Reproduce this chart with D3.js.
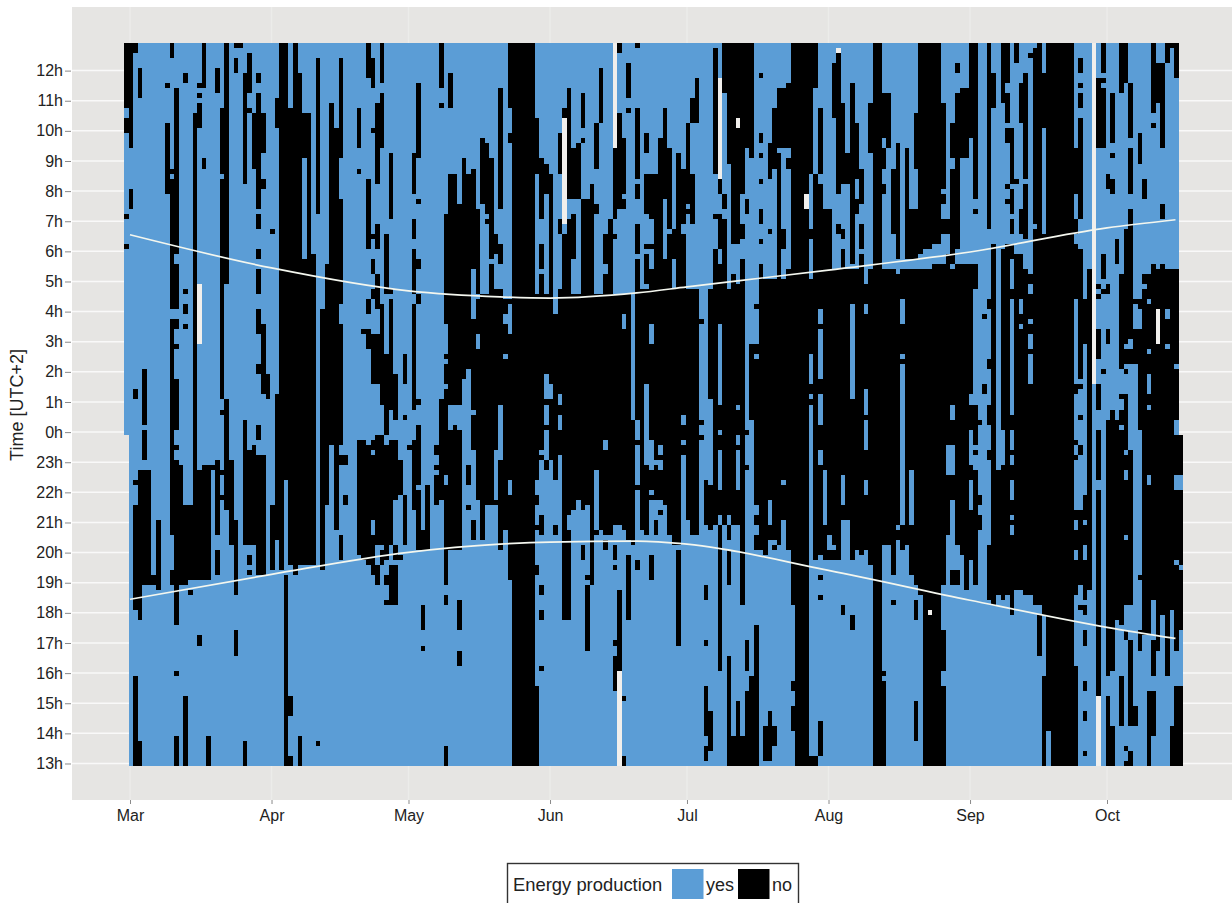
<!DOCTYPE html>
<html><head><meta charset="utf-8">
<style>html,body{margin:0;padding:0;background:#fff;overflow:hidden}svg{display:block}text{font-family:"Liberation Sans",Arial,sans-serif}</style>
<script src="https://cdn.jsdelivr.net/npm/d3@7"></script></head><body><svg id="c" width="1232" height="903"></svg>
<script>
// "No production" runs per grid column: flat start,end pairs, in 10-minute slots counted down from the top of the raster.
const noMar=[[0,13,15,18,34,35,40,41],[0,21,29,33],[0,2,69,71,87,88,92,113,126,144],[5,11,85,115,139,144],[65,76,77,83,85,108],[85,108],[106,108],[95,109],[],[8,9,16,30],[0,3,25,26,27,53,55,98,105,108],[9,42,44,53,55,57,60,61,67,77,80,81,83,116,125,126,138,144],[84,108],[6,8,49,50,52,54,56,57,92,108,130,144],[92,107,109,110],[14,107],[8,9,10,11,12,17,85,107,118,120],[0,9,23,25,84,107],[84,107,138,144],[84,85],[5,10,83,98,101,106],[13,26,27,71,73,74,85,86,90,91],[0,48,71,93],[83,100],[0,1,3,6,95,110,117,122],[0,1],[6,28,75,100,139,144],[2,10,13,14,81,100,102,104,105,106],[14,25,80,100],[6,8,10,33,34,37,41,43,45,50,53,58,64,66,76,79,82,106],[14,22,27,29,56,70,82,106],[66,71]];
const noApr=[[37,38,92,105],[11,17,70,99],[0,105],[0,87,106,144],[13,104,130,134,142,144],[0,106],[6,104,138,144],[14,23,43,104],[14,104],[42,104],[3,34,139,140],[53,105],[44,92],[12,80],[17,97],[3,23,31,52,56,80,82,84,98,103],[82,84,90,92],[],[],[13,21,25,26,79,102],[57,58,79,103],[0,7,27,41,51,54,57,61,80,104],[3,9,17,18,38,39,43,46,49,51,58,68,79,81,82,95,98,106],[12,28,36,41,46,53,58,68,78,100,104,108],[0,8,10,21,52,72,78,100,101,104],[38,50,62,78,80,103,106,108,111,112],[22,35,49,50,51,73,79,100,104,112],[66,75,79,91,100,103,104,112],[83,90,102,103],[62,68,74,75,90,100]];
const noMay=[[80,81],[22,30,35,39,41,50,52,73,79,93],[8,23,31,32,43,45,50,52,71,72,76,88,89,101],[97,101,112,117,120,121],[88,101],[],[80,82,84,85,86,92],[0,9,12,13,71,91],[34,56,62,63,64,68,69,86,88,108,110,112,140,144],[6,13,26,72,77,101],[26,72,76,101],[32,72,77,101,111,117,121,124],[23,67],[26,65,84,88,92,93],[25,45,55,73,74,81,95,99],[33,50,51,58,61,91],[19,32,50,99],[20,34,35,36,50,92],[23,43,44,92],[38,42,49,81,91,92],[9,33,40,44,49,72,83,101],[51,54,56,62,63,97],[0,13,18,20,51,52,58,87,90,107],[0,144],[0,144],[0,144],[0,144],[0,144],[15,26,50,87,90,92,96,97,104,106,128,144],[23,35,40,45,46,81,82,83,94,98,108,110,113,115,124,125],[24,30,50,66,71,72,76,77,83,85]];
const noJun=[[26,68,71,83],[54,87,96,98],[18,26,35,38,49,70,72,74,77,82],[13,15,38,115],[9,31,35,94,97,115],[21,31,34,43,50,93],[20,31,50,91],[10,17,19,20,31,93,100,103],[31,92,106,107,108,121],[28,108],[16,25,32,34,50,85,97,98],[5,16,50,97],[38,44,46,79,81,98,99,101],[35,98],[21,35,38,39,50,96,100,103,104,105,119,120,122,129],[0,2,14,33,50,96,109,125],[19,30,31,33,50,54,57,97,130,131,142,144],[4,11,13,14,50,99,102,115],[75,100],[0,1,13,27,28,31,36,42,43,75,79,80,88,89,103,105],[49,97],[18,22,26,34,40,41,42,48,49,68,84,98],[26,35,40,41,45,56,60,79,85,89,90,91,102,107],[26,83,84,91,95,98],[19,80,82,83,85,91,93,94],[13,31,43,92],[21,37,38,98],[37,43,49,100],[22,100,101,120],[25,36,38,74,76,79,80,82]];
const noJul=[[16,32,33,34,49,95],[11,16,26,36,49,98],[7,16,49,98],[55,56,75,76,78,79],[87,96,108,111,119,120,128,138,140,143],[49,71,88,97,133,141],[1,26,34,35,41,96],[27,30,34,41,44,56,72,77,78,81,89,94,96,125,144],[0,10,30,33,35,96],[0,24,49,94,96,99,101,108,122,144],[0,40,46,96,138,144],[0,15,17,40,48,72,73,78,80,81,89,96,131,144],[0,30,36,39,43,112,138,144],[0,21,31,34,77,78,84,85,119,125,129,144],[0,23,60,75,126,144],[52,53,60,62,63,92,94,96,98,101,116,144],[6,7,18,20,22,23,27,28,33,36,39,40,44,101],[47,102,136,143],[20,27,37,38,47,91,96,99,133,143],[13,25,47,99,100,101,136,140],[9,21,22,100],[9,21,37,41,47,87,88,95],[8,21,23,25,45,101],[0,112,127,129,132,137],[0,144],[0,144],[0,30,33,144],[0,26,37,39,47,62,68,70,71,72,142,144],[0,9,26,103,142,144],[13,26,28,53,56,57,67,70,76,81,84,102,106,107,110,111,135,142],[33,85,96,103]];
const noAug=[[33,98,101,103],[4,15,45,100,101,103],[2,30,36,38,45,103],[12,28,37,39,41,86,92,95,112,114],[22,28,45,95],[8,44,45,52,71,103,114,117],[16,27,31,34,45,101],[25,32,36,41,42,102],[48,52,54,69,74,75,81,87,90,101],[12,22,45,104],[0,144],[0,144],[10,19,21,25,28,30,45,100,125,126,127,144],[10,21,45,100],[25,38,45,106,111,112],[20,43,46,96,97,99],[45,51,56,62,63,64,96,101],[21,43,45,100],[33,43,45,85,96,106],[14,25,33,43,45,108,111,115,131,139],[0,42,45,110],[0,41,45,144],[0,41,45,113,114,144],[0,40,44,144],[0,40,44,144],[12,29,30,32,35,38,44,108,117,125,128,144],[35,38,42,80,86,98],[16,23,25,44,45,72,75,80,86,91,105,108],[4,6,10,41,44,100,105,108],[9,23,44,102],[9,23,44,109]];
const noSep=[[0,19,44,70,72,77,84,87,93,103],[0,31,33,34,44,49,72,80,81,82,85,108],[75,76,90,92,94,97],[54,55,68,70],[0,37,51,53,63,65,72,76,81,83,100,111],[6,13,40,112],[85,110],[0,12,41,77,84,111],[0,8,10,16,17,20,28,29,31,32,40,110],[17,28,29,34,35,38,40,43,49,51,74,77,81,82,84,87,91,94,95,96,98,114],[0,4,27,28,42,109],[8,16,33,38,42,51,54,56,57,109],[6,27,28,39,45,110],[2,3,46,48,50,55,56,58,61,62,68,110],[1,36,37,112],[0,112,114,122],[6,17,38,114,126,144],[0,137],[0,144],[0,144],[0,144],[0,144],[0,144],[21,30,35,38,40,51,68,70,79,80,82,83,93,95,97,101,103,110,124,144],[3,6,8,9,10,13,15,35,41,67,68,69,74,75,80,82,93,108,112,113],[51,60,90,95,96,100,103,111,112,114,117,120,127,129,133,135,141,142],[45,109],[],[7,21,48,49,50,51,57,63,68,73,77,87,89,130],[0,6,7,8,9,21,42,47,49,50,65,66]];
const noOct=[[26,29,48,50,57,60,75,126,130,144],[10,20,22,23,27,30,73,125,136,144],[39,44,75,115],[0,10,46,65,70,71,73,76,77,116,126,136],[0,8,37,60,61,64,65,66,70,81,82,85,87,98,99,112,117,119,140,141,143,144],[8,19,21,30,33,59,61,64,81,112,119,136,141,144],[51,52,57,64,132,136],[18,24,51,53,57,77,106,107,117,121],[27,31,46,48,49,118],[46,51,52,61,62,66,70,72,73,86,88,118,129,144],[0,14,16,17,44,111,119,126,129,138],[4,12,45,53,60,121],[4,21,32,35,44,114],[0,4,45,53,55,60,61,126],[0,1,45,113,136,144],[0,7,45,64,65,75,78,86,89,103,104,121,128,144],[78,86,89,104,105,117,128,144]];
// Missing measurements: grid column, first slot, last slot
const missingColumn=[16,96,107,108,130,134,149,156,176,212,213,226];
const missingStart=[48,15,0,125,7,15,30,1,113,0,130,53];
const missingEnd=[60,36,21,144,27,17,33,2,114,68,144,60];
const hourLabels=["13h","14h","15h","16h","17h","18h","19h","20h","21h","22h","23h","0h","1h","2h","3h","4h","5h","6h","7h","8h","9h","10h","11h","12h"];
const monthLabels=["Mar","Apr","May","Jun","Jul","Aug","Sep","Oct"];
const monthStarts=["2013-03-01","2013-04-01","2013-05-01","2013-06-01","2013-07-01","2013-08-01","2013-09-01","2013-10-01"];
const lineDates=["2013-03-01","2013-04-01","2013-05-01","2013-05-21","2013-06-01","2013-06-20","2013-07-01","2013-08-01","2013-09-01","2013-10-01","2013-10-16"];
const sunriseHours=[6.55,5.45,4.69,4.49,4.45,4.62,4.82,5.38,5.98,6.78,7.05];
const sunsetHours=[18.45,19.28,20.01,20.28,20.35,20.38,20.28,19.41,18.42,17.52,17.15];

const blue="#5b9dd6",gap="#f1efec";
const noRuns=[].concat(noMar,noApr,noMay,noJun,noJul,noAug,noSep,noOct);
const parse=d3.utcParse("%Y-%m-%d");
const svg=d3.select("#c");
const x=d3.scaleUtc().domain([parse(monthStarts[0]),parse(monthStarts[7])]).range([130,1107]);
const y=d3.scaleLinear().domain([0,144]).range([43,766]);          // slots from top
const colDate=k=>d3.utcDay.offset(parse(monthStarts[0]),k-1);
const colX=k=>x(colDate(k))-1.4;
const colW=k=>x(colDate(k+1))-x(colDate(k));
const midnightSlot=78;
// panel
svg.append("rect").attr("x",72).attr("y",7).attr("width",1160).attr("height",793).attr("fill","#e6e5e3");
const hourY=i=>y(144-i*6-0.5);
svg.append("g").selectAll("line").data(hourLabels).join("line").attr("x1",72).attr("x2",1232)
  .attr("y1",(d,i)=>hourY(i)).attr("y2",(d,i)=>hourY(i)).attr("stroke","#f9f9f9").attr("stroke-width",1.5);
svg.append("g").selectAll("line").data(monthStarts).join("line").attr("y1",7).attr("y2",800)
  .attr("x1",d=>x(parse(d))).attr("x2",d=>x(parse(d))).attr("stroke","#ececea").attr("stroke-width",1.4);
// yes background
const columns=noRuns.map((r,k)=>({k,r}));
const g=svg.append("g").attr("shape-rendering","crispEdges");
g.selectAll("rect.top").data(columns.slice(0,231)).join("rect").attr("class","top")
  .attr("x",d=>colX(d.k)).attr("width",d=>colW(d.k)).attr("y",y(0)).attr("height",y(midnightSlot)-y(0)).attr("fill",blue);
g.selectAll("rect.bot").data(columns.slice(1)).join("rect").attr("class","bot")
  .attr("x",d=>colX(d.k)).attr("width",d=>colW(d.k)).attr("y",y(midnightSlot)).attr("height",y(144)-y(midnightSlot)).attr("fill",blue);
// no runs
const runs=[];
noRuns.forEach((r,k)=>{for(let i=0;i<r.length;i+=2)runs.push({k,a:r[i],b:r[i+1]});});
g.selectAll("rect.no").data(runs).join("rect").attr("class","no")
  .attr("x",d=>colX(d.k)).attr("width",d=>colW(d.k)).attr("y",d=>y(d.a)).attr("height",d=>y(d.b)-y(d.a)).attr("fill","#000");
g.selectAll("rect.gap").data(missingColumn).join("rect").attr("class","gap")
  .attr("x",d=>colX(d)).attr("width",d=>colW(d)).attr("y",(d,i)=>y(missingStart[i])).attr("height",(d,i)=>y(missingEnd[i])-y(missingStart[i])).attr("fill",gap);
// sun lines
const yHour=h=>h<13?y(144-(h+11)*6-0.5):y(144-(h-13)*6-0.5);
[sunriseHours,sunsetHours].forEach(s=>{
  svg.append("path").datum(lineDates.map((d,i)=>[parse(d),s[i]]))
    .attr("d",d3.line().x(d=>x(d[0])).y(d=>yHour(d[1])).curve(d3.curveMonotoneX))
    .attr("fill","none").attr("stroke","#f4f7ef").attr("stroke-width",1.7);
});
// axes
const ax=d3.axisBottom(x).tickValues(monthStarts.map(parse)).tickFormat((d,i)=>monthLabels[i]).tickSize(4).tickPadding(6);
const axX=svg.append("g").attr("transform","translate(0,800)").call(ax);
const yb=d3.scalePoint().domain(hourLabels).range([hourY(0),hourY(23)]);
const axY=svg.append("g").attr("transform","translate(71,0)").call(d3.axisLeft(yb).tickSize(6).tickPadding(2));
[axX,axY].forEach(a=>{a.select(".domain").remove();a.selectAll("line").attr("stroke","#8a8a8a");
  a.selectAll("text").attr("font-size",16).attr("fill","#222").attr("font-family",'"Liberation Sans",Arial,sans-serif');});
svg.append("text").attr("transform","translate(23,405) rotate(-90)").attr("text-anchor","middle").attr("font-size",18).attr("fill","#222").text("Time [UTC+2]");
// legend
const lg=svg.append("g");
lg.append("rect").attr("x",507.5).attr("y",863.5).attr("width",291).attr("height",42).attr("fill","#fff").attr("stroke","#333").attr("stroke-width",1.4);
lg.append("text").attr("x",513).attr("y",891).attr("font-size",18.4).attr("fill","#222").text("Energy production");
const legendLabels=["yes","no"],legendFill=[blue,"#000"],legendX=[672,738];
legendLabels.forEach((l,i)=>{
  lg.append("rect").attr("x",legendX[i]).attr("y",869).attr("width",31.5).attr("height",30).attr("fill",legendFill[i]);
  lg.append("text").attr("x",legendX[i]+34).attr("y",891).attr("font-size",18).attr("fill","#222").text(l);
});
</script></body></html>
